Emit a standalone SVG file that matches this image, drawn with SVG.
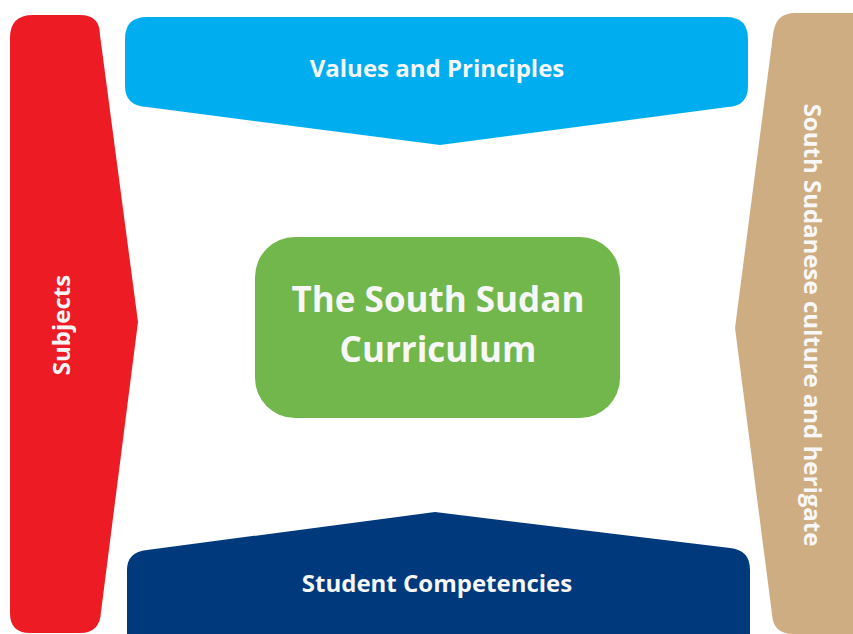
<svg xmlns="http://www.w3.org/2000/svg" width="853" height="634" viewBox="0 0 853 634">
<style>
.t{font-family:"Open Sans",Lato,"Liberation Sans",sans-serif;font-weight:bold;fill:#F7F7F7;text-anchor:middle}
</style>
<rect width="853" height="634" fill="#FFFFFF"/>
<g id="subjects">
<path d="M33,15 H80 Q100,15 100,35 L138,322 L101,612 Q100,633 80,633 H30 Q10,633 10,613 V38 Q10,15 33,15 Z" fill="#ED1C24"/>
<text class="t" font-size="24" transform="translate(70,325) rotate(-90)">Subjects</text>
</g>
<g id="values">
<path d="M147,17 H726 Q748,17 748,39 V86 Q748,106 728,107 L440,145 L147,107 Q125,106 125,86 V39 Q125,17 147,17 Z" fill="#00AEEF"/>
<text class="t" font-size="24" x="437" y="77">Values and Principles</text>
</g>
<g id="culture">
<path d="M795,13 H853 V634 H793 Q773,634 772,614 L735,328 L773,35 Q775,13 795,13 Z" fill="#CFAD82"/>
<text class="t" font-size="24" transform="translate(804,325) rotate(90)">South Sudanese culture and herigate</text>
</g>
<g id="competencies">
<path d="M147,550 L435,512 L730,548 Q750,550 750,570 V640 H127 V570 Q127,552 147,550 Z" fill="#003A7D"/>
<text class="t" font-size="24" x="437" y="592">Student Competencies</text>
</g>
<g id="curriculum">
<rect x="255" y="237" width="365" height="181" rx="40" ry="40" fill="#72B74B"/>
<text class="t" font-size="35" x="438" y="312">The South Sudan</text>
<text class="t" font-size="35" x="438" y="362">Curriculum</text>
</g>
<g id="connectors"></g>
</svg>
